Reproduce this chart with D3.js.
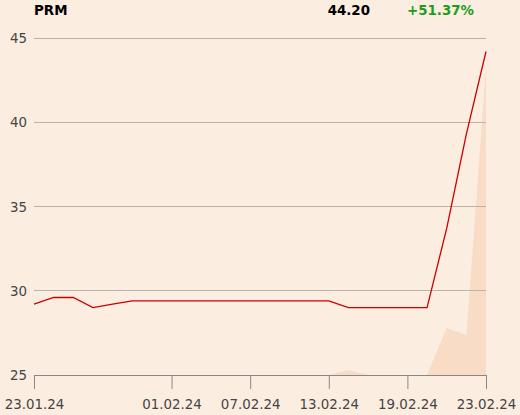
<!DOCTYPE html>
<html><head><meta charset="utf-8">
<script src="https://cdn.jsdelivr.net/npm/d3@7"></script>
<style>
html,body{margin:0;padding:0;background:#fcede1;}
svg{display:block;font-family:"DejaVu Sans",sans-serif;}
</style></head>
<body><svg id="c" width="520" height="415"></svg>
<script>
const dates = ["23.01.24","24.01.24","25.01.24","26.01.24","29.01.24","30.01.24","31.01.24","01.02.24","02.02.24","05.02.24","06.02.24","07.02.24","08.02.24","09.02.24","12.02.24","13.02.24","14.02.24","15.02.24","16.02.24","19.02.24","20.02.24","21.02.24","22.02.24","23.02.24"];
const prices = [29.2,29.6,29.6,29.0,29.2,29.4,29.4,29.4,29.4,29.4,29.4,29.4,29.4,29.4,29.4,29.4,29.0,29.0,29.0,29.0,29.0,33.7,39.3,44.2];
const volumes = [0,0,0,0,0,0,0,0,0,0,0,0,0,0,0,0,1600,0,0,0,0,15050,12730,98100];
const xTickLabels = ["23.01.24","01.02.24","07.02.24","13.02.24","19.02.24","23.02.24"];
const yTicks = [25,30,35,40,45];
const title = "PRM", lastPrice = "44.20", change = "+51.37%";

const svg = d3.select("#c");
const L = 34, R = 486, T = 38, B = 375;
const x = d3.scalePoint().domain(dates).range([L, R]);
const y = d3.scaleLinear().domain([25, 45]).range([B, T]);
const yv = d3.scaleLinear().domain([0, 100000]).range([B, 61]);
const fs = "13.4px";

// volume area
svg.append("path")
  .datum(volumes)
  .attr("fill", "#f9dcc5")
  .attr("d", d3.area().x((d,i)=>x(dates[i])).y0(B).y1(d=>yv(d)));

// grid
svg.append("g").selectAll("line").data(yTicks.filter(d=>d!==25)).join("line")
  .attr("x1", L).attr("x2", R).attr("y1", d=>y(d)).attr("y2", d=>y(d))
  .attr("stroke", "#b9b4b0").attr("stroke-width", 1).attr("shape-rendering","crispEdges");

// y labels
svg.append("g").selectAll("text").data(yTicks).join("text")
  .attr("x", 27).attr("y", d=>y(d)+5).attr("text-anchor","end")
  .attr("font-size", fs).attr("fill", "#444").text(d=>d);

// x axis
const xa = d3.axisBottom(x).tickValues(xTickLabels).tickSize(14).tickPadding(10);
const gx = svg.append("g").attr("transform", `translate(0,${B})`).call(xa);
gx.select(".domain").attr("stroke", "#888").attr("d", `M${L},0.5H${R}`);
gx.selectAll(".tick line").attr("stroke", "#888");
gx.selectAll(".tick text").attr("font-size", fs).attr("fill", "#444").attr("font-family","DejaVu Sans");

// price line
svg.append("path").datum(prices)
  .attr("fill","none").attr("stroke","#cc0000").attr("stroke-width",1.3)
  .attr("d", d3.line().x((d,i)=>x(dates[i])).y(d=>y(d)));

// header
svg.append("text").attr("x",34).attr("y",15).attr("font-weight","bold").attr("font-size",fs).attr("fill","#000").text(title);
svg.append("text").attr("x",370).attr("y",15).attr("text-anchor","end").attr("font-weight","bold").attr("font-size",fs).attr("fill","#000").text(lastPrice);
svg.append("text").attr("x",474).attr("y",15).attr("text-anchor","end").attr("font-weight","bold").attr("font-size",fs).attr("fill","#1c9e1c").text(change);
</script></body></html>
